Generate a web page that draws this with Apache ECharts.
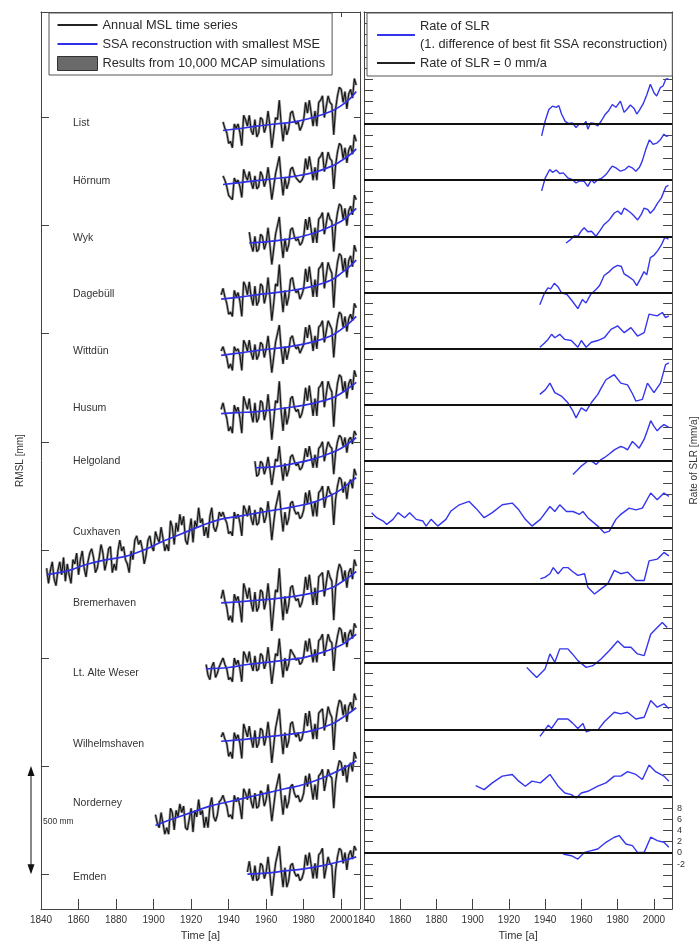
<!DOCTYPE html>
<html><head><meta charset="utf-8">
<script src="https://cdn.jsdelivr.net/npm/echarts@6/dist/echarts.min.js"></script>
<style>html,body{margin:0;padding:0;background:#fff;overflow:hidden}#c{width:700px;height:946px}</style>
</head><body><div id="c"></div>
<script>
// ---------- DATA ----------
const stations = ['List','Hörnum','Wyk','Dagebüll','Wittdün','Husum','Helgoland','Cuxhaven','Bremerhaven','Lt. Alte Weser','Wilhelmshaven','Norderney','Emden'];
const startYears = [1937,1937,1951,1936,1936,1936,1954,1843,1936,1928,1936,1901,1950];
// vertical stacking of the stations (left: mm on RMSL axis, right: mm/a on rate axis)
const mslBase = [3440,3190,2920,2660,2400,2130,1880,1385,1255,950,615,225,0];
const rateZero = [0,-10,-20,-30,-40,-50,-60,-72,-82,-96,-108,-120,-130];
const xTicks = [1840,1860,1880,1900,1920,1940,1960,1980,2000];
const mslTicks = [0,500,1000,1500,2000,2500,3000,3500];
const rateTickLabels = [-2,0,2,4,6,8];

// annual MSL (cm, relative to SSA start), one value per year from startYear
const mslList = [4,1,-1,-6,-5,-8,3,1,3, -1,-7,7,5,2,7,0,-2,5,-3, -1,6,5,-1,2,9,2,-8,-1,6, 5,14,3,-5,3,-2,1,8,9,5, 3,4,0,2,5,13,8,14,8,2, 9,2,13,14,16,6,11,16,13,12, -2,10,16,20,19,13,18,10,17,19, 15,24,21];
const mslHornum = [4,2,-1,-5,-5,-7,3,1,2, -1,-6,7,4,2,6,1,-2,4,-2, -1,6,4,-1,2,8,1,-7,-1,5, 5,13,3,-5,3,-2,1,7,8,5, 3,3,1,2,4,12,7,13,8,2, 8,2,12,13,15,6,10,15,12,11, -2,9,15,19,18,12,17,10,16,18, 14,23,20];
const mslWyk = [5,-1,-4,3,-4, -3,4,3,-3,0,7,-1,-10,-3,4, 4,12,1,-7,2,-4,-1,6,7,3, 1,2,-1,0,3,11,6,12,6,0, 7,0,11,12,14,4,9,14,11,10, -4,8,14,18,17,11,16,8,15,17, 13,22,20];
const mslDagebull = [2,5,1,-2,-7,-6,-8,4,1,3, -1,-8,8,6,2,8,1,-3,6,-3, -1,7,6,-2,2,10,1,-10,-2,7, 6,16,3,-6,4,-3,1,9,10,5, 3,4,0,2,5,14,8,15,8,1, 9,1,14,15,17,5,11,17,14,12, -4,10,17,21,20,13,19,10,18,20, 15,25,22];
const mslWittdun = [2,4,1,-1,-6,-4,-7,4,2,3, 0,-7,7,5,2,7,1,-2,5,-2, 0,6,5,-1,3,9,1,-8,-1,6, 6,14,3,-4,4,-2,2,8,9,5, 3,4,1,3,5,13,8,14,9,2, 9,3,13,14,16,6,11,16,14,12, -1,10,16,20,19,13,18,11,17,19, 16,24,22];
const mslHusum = [2,5,1,-2,-8,-6,-9,4,1,3, -2,-9,8,5,2,7,0,-4,5,-4, -2,6,5,-3,1,9,0,-12,-3,6, 5,15,1,-8,3,-5,-1,7,8,3, 1,2,-2,0,4,12,6,13,6,-1, 7,-1,12,13,15,3,9,15,12,10, -6,7,14,18,17,10,15,7,14,16, 11,20,17];
const mslHelgoland = [3,-4, -3,3,2,-3,0,5,-1,-8,-2,4, 3,10,1,-6,2,-4,-1,5,6,3, 1,2,-1,0,3,9,5,10,5,0, 6,0,9,10,12,3,8,12,10,9, -3,7,12,15,14,10,14,7,13,14, 11,17,15];
const mslCuxhaven = [3,-4,2,6,-2,-5,2,6,0,8, -3,5,0,-4,7,5,10,0,7,11, 3,-1,6,10,12,8,1,3,8,14, 10,2,6,12,13,1,5,2,11,16, 11,13,7,5,1,11,7,16,18,14, 16,12,5,9,16,18,13,11,20,17, 15,22,17,11,14,11,25,22,14,24, 20,28,23,27,16,14,20,26,15,25, 22,31,24,26,18,22,17,27,31,22, 20,23,29,
  27,29,26,24,19,20,18,29,26,28, 24,18,32,30,27,32,26,23,30,23, 24,31,30,24,27,34,26,16,24,31, 31,39,28,20,29,23,26,33,34,30, 28,29,26,27,30,38,33,39,33,27, 34,27,38,39,41,31,36,41,38,37, 23,35,41,45,44,38,43,35,42,44, 40,49,46];
const mslBremerhaven = [2,6,1,-2,-8,-6,-9,4,1,3, -2,-9,9,6,2,7,0,-4,5,-4, -2,6,5,-3,1,9,0,-13,-3,6, 5,16,2,-8,3,-5,-1,7,8,3, 1,2,-2,0,4,12,6,13,6,-1, 7,-1,12,13,14,3,9,15,12,10, -8,7,14,18,16,10,15,7,14,16, 11,20,17];
const mslAlteWeser = [2,-3,-5,1,3,-4,-2,1, 3,5,2,0,-5,-4,-6,5,2,4, 0,-6,8,6,3,8,2,-1,6,-1, 0,7,6,0,3,10,2,-7,0,7, 6,14,4,-4,5,-1,2,9,9,6, 4,5,2,3,6,13,8,14,8,3, 9,3,13,14,16,6,11,16,13,12, -1,10,15,19,18,12,17,10,16,18, 14,21,19];
const mslWilhelmshaven = [2,4,1,-1,-7,-5,-8,4,1,3, -1,-8,8,5,2,7,1,-3,5,-3, -1,6,5,-2,2,9,1,-10,-2,6, 6,15,3,-6,4,-3,0,8,9,4, 2,4,0,1,5,13,7,14,7,1, 8,1,13,14,15,5,10,16,13,11, -4,9,15,19,18,12,17,9,16,18, 14,22,19];
const mslNorderney = [5,1,-1,6,1,-4,-1,-4,8,6, -2,7,4,10,6,9,-1,-2,3,8, -3,7,4,12,5,7,-1,4,-1,9, 13,4,2,5,11,
  12,14,11,9,4,5,3,14,11,13, 9,3,17,15,12,17,11,8,15,8, 9,16,15,9,12,19,11,2,9,16, 16,24,13,5,14,8,11,18,19,15, 13,14,11,12,15,23,18,24,18,12, 19,12,23,24,26,16,21,26,23,22, 8,20,26,30,29,23,28,20,27,29, 25,34,31];
const mslEmden = [1,6,0,-3,4,-3,-2,5,4,-2, 1,8,0,-10,-2,5,5,13,2,-6, 3, -6,-3,4,5,1,-1,0,-3,-2,1, 9,4,10,4,-2,5,-2,9,10,12, -2,3,8,5,4,-11,2,8,12,11, 5,10,2,9,11,7,13,11];

// SSA reconstruction (year, cm relative to start)
const ssaList = [[1937,0],[1945,0.8],[1955,2],[1965,3],[1975,4],[1985,6],[1995,9],[2000,11.5],[2005,15],[2008,18]];
const ssaHornum = [[1937,0],[1945,0.8],[1955,1.8],[1965,2.8],[1975,3.8],[1985,5.5],[1995,8.5],[2000,11],[2005,14],[2008,16.5]];
const ssaWyk = [[1951,0],[1960,0.5],[1970,1.5],[1980,3.2],[1990,6],[2000,10],[2005,13.5],[2008,16]];
const ssaDagebull = [[1936,0],[1945,0.8],[1955,2],[1965,3],[1975,4.2],[1985,6],[1995,9],[2000,12],[2005,15.5],[2008,18]];
const ssaWittdun = [[1936,0],[1945,1],[1955,2.2],[1965,3.2],[1975,4.4],[1985,6.2],[1995,9.2],[2000,12],[2005,15.5],[2008,18]];
const ssaHusum = [[1936,0],[1945,0.5],[1955,1],[1965,2],[1975,3.2],[1985,4.8],[1995,7.2],[2000,9.5],[2005,12.5],[2008,14.5]];
const ssaHelgoland = [[1954,0],[1965,0.5],[1975,2],[1985,4],[1995,7],[2000,9],[2005,12],[2008,14]];
const ssaCuxhaven = [[1843,0],[1855,2],[1865,5],[1875,7],[1885,8.5],[1895,11.5],[1905,15.5],[1915,19],[1925,22.5],[1935,25.5],[1945,27],[1955,28.5],[1965,30],[1975,31.5],[1985,33.5],[1995,37],[2000,39.5],[2005,43],[2008,45]];
const ssaBremerhaven = [[1936,0],[1945,0.5],[1955,1.2],[1965,2],[1975,3],[1985,4.6],[1995,7],[2000,9.5],[2005,12.5],[2008,14.5]];
const ssaAlteWeser = [[1928,0],[1940,0.6],[1950,2],[1960,3],[1970,4],[1980,5.2],[1990,7.6],[2000,11],[2005,14],[2008,16]];
const ssaWilhelmshaven = [[1936,0],[1945,0.6],[1955,1.5],[1965,2.5],[1975,3.5],[1985,5],[1995,8],[2000,10.5],[2005,13.5],[2008,15.5]];
const ssaNorderney = [[1901,0],[1910,3],[1920,6],[1930,9],[1940,11],[1950,13],[1960,15],[1970,17],[1980,19],[1990,22],[2000,26],[2008,30]];
const ssaEmden = [[1950,0],[1960,0.5],[1970,1.5],[1980,2.5],[1990,4],[2000,6],[2008,8]];

// Rate of SLR (year, mm/a)
const rateList = [[1938,-2.1],[1940,0.6],[1942,2.6],[1944,3.2],[1946,3.0],[1947.5,3.3],[1949,1.8],[1951,0.5],[1953,0.1],[1955,0.2],[1957,-0.6],[1959,0.1],[1961,-0.1],[1962.5,0.5],[1963.5,-0.9],[1965,0.2],[1967,0.1],[1969,-0.3],[1971,0.6],[1973,1.7],[1975,2.4],[1977,3.5],[1979,3.0],[1981.5,4.1],[1983.5,2.1],[1985,2.6],[1987,3.4],[1989,2.8],[1990.5,1.8],[1992,2.5],[1994,3.6],[1996,5.2],[1998,7.1],[2000,5.6],[2001.5,5.0],[2003.5,6.5],[2005,6.8],[2006.5,8.0],[2008,8.1]];
const rateHornum = [[1938,-1.9],[1940,0.4],[1942.5,1.9],[1944,1.4],[1946,1.8],[1948,1.2],[1950,1.3],[1952.5,0.4],[1955,0.1],[1957,-0.5],[1959,-0.1],[1961.5,-0.2],[1963.5,-1.1],[1965.5,0.1],[1967,-0.5],[1969,0.1],[1971,0.3],[1973.5,1.0],[1975.5,1.9],[1977,2.5],[1979,2.2],[1981.5,1.6],[1984,1.9],[1986,2.5],[1988,2.2],[1990,1.6],[1992,2.3],[1993.5,3.4],[1995.5,5.5],[1997.5,7.2],[1999.5,6.4],[2001.5,6.6],[2003.5,7.2],[2005.5,8.2],[2007,7.8],[2008,8.0]];
const rateWyk = [[1951.5,-1.2],[1954,-0.6],[1956,0.1],[1958,0],[1960,1.0],[1961.5,1.5],[1963.5,0.8],[1965.5,0.9],[1968,0],[1970,0.9],[1972.5,2.1],[1975,2.8],[1978,4.1],[1980,4.5],[1982,3.9],[1983.5,5.0],[1985.5,4.6],[1987.5,4.1],[1989,3.6],[1991,2.9],[1993,3.9],[1994.5,5.0],[1996.5,4.8],[1998,4.1],[2000,4.8],[2002,5.9],[2004,6.8],[2006.5,8.8],[2008,9.1]];
const rateDagebull = [[1937,-2.2],[1939.5,-0.2],[1941.5,0.8],[1943,0.6],[1945,1.6],[1947,1.0],[1949,-0.1],[1952,-0.4],[1955,-1.6],[1958,-2.9],[1960.5,-1.3],[1962.5,-1.9],[1965,-0.4],[1968,0.5],[1970,1.2],[1972.5,3.0],[1975,3.6],[1977.5,4.4],[1980,4.8],[1982,4.6],[1983.5,3.3],[1986,2.8],[1988.5,2.2],[1990.5,1.2],[1992.5,2.4],[1994.5,3.7],[1996,3.1],[1998,6.2],[2000,6.6],[2002,7.4],[2004,8.4],[2006,9.8],[2008,9.5]];
const rateWittdun = [[1937,0.2],[1939.5,0.9],[1941.5,1.6],[1943.5,2.5],[1945.3,1.9],[1948,2.5],[1950.8,1.6],[1954.4,1.4],[1958,0.2],[1959.9,1.4],[1962.6,0.2],[1965.4,1.1],[1969,1.4],[1972.6,1.9],[1976.3,3.4],[1980,4.0],[1983.6,2.8],[1987.3,3.7],[1990.9,2.2],[1994.6,2.8],[1997.3,6.1],[2001.8,5.8],[2004.6,6.4],[2006.4,5.5],[2008.2,5.8]];
const rateHusum = [[1937,1.8],[1940,2.6],[1942.6,3.8],[1945.3,2.1],[1948.9,1.5],[1952.5,0.3],[1955,-1.0],[1957,-2.4],[1959.9,-0.6],[1962.6,-1.2],[1965.4,0.3],[1969,1.8],[1971,3.0],[1973.5,4.4],[1976,4.9],[1978.1,5.3],[1981.7,3.8],[1985.4,3.5],[1988,2.0],[1990,0.6],[1993.6,0.9],[1996.4,3.8],[2000,2.1],[2003.6,3.8],[2006.4,7.1],[2008.2,7.4]];
const rateHelgoland = [[1955.3,-2.5],[1957.5,-1.8],[1959.9,-1.0],[1963.5,-0.1],[1966,-0.2],[1968.1,-0.7],[1970.5,0.1],[1972.6,0.5],[1975.5,1.2],[1978.1,1.9],[1981.7,2.5],[1983.5,2.3],[1985.4,1.9],[1988.1,3.4],[1990,2.8],[1991.8,2.2],[1994.6,3.8],[1996.5,5.5],[1998.2,7.1],[2000,6.1],[2001.8,5.3],[2003.5,5.9],[2005.5,6.4],[2008.2,5.9]];
const rateCuxhaven = [[1844.2,2.7],[1847,1.8],[1850.6,1.2],[1852.5,0.6],[1856,1.5],[1858.8,2.7],[1862.4,1.8],[1865.2,2.7],[1868.8,1.5],[1872.5,1.2],[1874.3,0.3],[1877,1.5],[1880.7,0.3],[1885.2,1.5],[1888,3.0],[1892.6,4.1],[1898,4.7],[1901.7,3.5],[1906.3,1.8],[1910.8,2.7],[1916.3,4.1],[1921.8,4.4],[1925.4,3.2],[1929,1.5],[1932.7,0.3],[1937.3,1.5],[1942.6,3.8],[1945.3,2.9],[1948,4.1],[1951.7,2.9],[1955.3,2.9],[1958.9,2.4],[1960.8,2.9],[1963.5,1.8],[1969,0.3],[1972.6,-0.9],[1975.4,-0.6],[1979,1.5],[1981.7,2.4],[1986.3,3.5],[1990,3.2],[1993.6,3.5],[1998.2,6.2],[2001.8,5.0],[2005.5,6.2],[2008.2,5.6]];
const rateBremerhaven = [[1937.3,0.9],[1940,1.2],[1942.6,1.8],[1944.4,2.9],[1947.1,1.8],[1949.9,2.9],[1952.5,2.9],[1955,2.2],[1958,1.5],[1961.7,1.8],[1963.5,-0.6],[1967.2,-1.8],[1970.8,-0.9],[1974.5,0],[1978.1,2.4],[1981.7,1.8],[1985.4,2.1],[1990,0.6],[1994.6,0.6],[1997.3,4.1],[2001.8,4.4],[2005.5,5.6],[2008.2,5.0]];
const rateAlteWeser = [[1929.8,-0.9],[1932.5,-1.8],[1935.3,-2.7],[1939.9,-1.2],[1942.6,1.5],[1945.3,0],[1948,2.4],[1952.5,2.4],[1955,1.5],[1958,0.3],[1962.6,-0.9],[1966.3,-0.6],[1970.8,0.6],[1975.4,2.1],[1980,3.8],[1983.6,2.7],[1987.3,2.7],[1990.9,1.5],[1994.6,1.2],[1998.2,5.0],[2001.8,6.2],[2004.6,7.1],[2007.3,6.2]];
const rateWilhelmshaven = [[1937.1,-1.2],[1941.7,0.8],[1943.5,0.2],[1947.1,1.9],[1952.5,1.9],[1955,1.2],[1958,0.2],[1960.8,1.1],[1962.6,-0.4],[1965.4,-0.1],[1969,-0.1],[1972.6,1.4],[1978.1,3.1],[1981.7,2.8],[1985.4,3.1],[1990,1.9],[1994.6,2.2],[1998.2,5.2],[2001.8,4.0],[2005.5,4.6],[2008.2,3.7]];
const rateNorderney = [[1901.6,2.0],[1906.3,1.3],[1910.8,2.5],[1916.3,3.7],[1921.8,4.0],[1925.4,2.8],[1929,1.9],[1932.7,2.8],[1937.3,2.5],[1942.6,4.0],[1947.1,1.9],[1950.8,0.7],[1954.4,0.4],[1957.1,-0.2],[1959.9,0.7],[1963.5,1.0],[1969,1.9],[1973.5,2.5],[1978.1,3.7],[1981.7,3.7],[1985.4,4.5],[1990,4.0],[1993.6,3.1],[1997.3,5.7],[2000.9,4.5],[2005.5,3.7],[2008.2,2.8]];
const rateEmden = [[1949.8,-0.2],[1954.4,-0.5],[1958,-1.1],[1961.7,0.1],[1965.4,0.4],[1969,0.7],[1973.5,1.9],[1978.1,2.8],[1980.8,3.1],[1984.5,1.6],[1988.1,1.3],[1990.9,0.1],[1994.6,0.1],[1998.2,2.8],[2001.8,2.2],[2005.5,1.9],[2008.2,1.0]];

const mslData = [mslList,mslHornum,mslWyk,mslDagebull,mslWittdun,mslHusum,mslHelgoland,mslCuxhaven,mslBremerhaven,mslAlteWeser,mslWilhelmshaven,mslNorderney,mslEmden];
const ssaData = [ssaList,ssaHornum,ssaWyk,ssaDagebull,ssaWittdun,ssaHusum,ssaHelgoland,ssaCuxhaven,ssaBremerhaven,ssaAlteWeser,ssaWilhelmshaven,ssaNorderney,ssaEmden];
const rateData = [rateList,rateHornum,rateWyk,rateDagebull,rateWittdun,rateHusum,rateHelgoland,rateCuxhaven,rateBremerhaven,rateAlteWeser,rateWilhelmshaven,rateNorderney,rateEmden];

// ---------- CHART ----------
const FONT = '"Liberation Sans", Arial, sans-serif';
const N_MSL = 'Annual MSL time series';
const N_SSA = 'SSA reconstruction with smallest MSE';
const N_MC = 'Results from 10,000 MCAP simulations';
const N_RATE = 'Rate of SLR\n(1. difference of best fit SSA reconstruction)';
const N_ZERO = 'Rate of SLR = 0 mm/a';
const LINE_ICON = 'path://M0,0 L40,0 L40,2.2 L0,2.2 Z';
const AX = '#444';

function xAxis(grid, pos, withLabels) {
  return {
    type: 'value', gridIndex: grid, position: pos, min: 1840, max: 2010, interval: 20,
    axisLine: { show: true, onZero: false, lineStyle: { color: AX, width: 1 } },
    axisTick: { show: true, inside: true, length: withLabels ? 10 : 5, lineStyle: { color: AX } },
    axisLabel: { show: withLabels, margin: 6, fontSize: 10, color: '#333', fontFamily: FONT,
      formatter: v => (xTicks.indexOf(v) >= 0 ? String(v) : '') },
    splitLine: { show: false },
    name: withLabels ? 'Time [a]' : '', nameLocation: 'middle', nameGap: 21,
    nameTextStyle: { fontSize: 11, color: '#333', fontFamily: FONT }
  };
}

const yAxes = [
  { type: 'value', gridIndex: 0, position: 'left', min: -161, max: 3988, interval: 500,
    axisLine: { show: true, onZero: false, lineStyle: { color: AX } },
    axisTick: { show: true, inside: true, length: 8, customValues: mslTicks, lineStyle: { color: AX } },
    axisLabel: { show: false }, splitLine: { show: false },
    name: 'RMSL [mm]', nameLocation: 'middle', nameGap: 16,
    nameTextStyle: { fontSize: 10, color: '#333', fontFamily: FONT } },
  { type: 'value', gridIndex: 0, position: 'right', min: -161, max: 3988, interval: 500,
    axisLine: { show: true, onZero: false, lineStyle: { color: AX } },
    axisTick: { show: true, inside: true, length: 6, customValues: mslTicks, lineStyle: { color: AX } },
    axisLabel: { show: false }, splitLine: { show: false } },
  { type: 'value', gridIndex: 1, position: 'left', min: -140, max: 20, interval: 2,
    axisLine: { show: true, onZero: false, lineStyle: { color: AX } },
    axisTick: { show: true, inside: true, length: 9, lineStyle: { color: AX } },
    axisLabel: { show: false }, splitLine: { show: false } },
  { type: 'value', gridIndex: 1, position: 'right', min: -140, max: 20, interval: 2,
    axisLine: { show: true, onZero: false, lineStyle: { color: AX } },
    axisTick: { show: true, inside: true, length: 9, lineStyle: { color: AX } },
    axisLabel: { show: true, margin: 5, fontSize: 9, color: '#333', fontFamily: FONT,
      formatter: v => { const r = v - rateZero[rateZero.length - 1]; return rateTickLabels.indexOf(r) >= 0 ? String(r) : ''; } },
    splitLine: { show: false },
    name: 'Rate of SLR [mm/a]', nameLocation: 'middle', nameGap: 16,
    nameTextStyle: { fontSize: 10, color: '#333', fontFamily: FONT } }
];

const series = [];
stations.forEach((s, i) => {
  const pts = mslData[i].map((v, k) => [startYears[i] + k, mslBase[i] + v * 10]);
  series.push({ name: N_MC, type: 'line', xAxisIndex: 0, yAxisIndex: 0, data: pts, symbol: 'none',
    color: '#6a6a6a', lineStyle: { color: '#9a9a9a', width: 2.6 }, z: 1, silent: true });
  series.push({ name: N_MSL, type: 'line', xAxisIndex: 0, yAxisIndex: 0, data: pts, symbol: 'none',
    color: '#111', lineStyle: { color: '#151515', width: 1.1 }, z: 2, silent: true });
  series.push({ name: N_SSA, type: 'line', xAxisIndex: 0, yAxisIndex: 0, smooth: 0.4, symbol: 'none',
    data: ssaData[i].map(p => [p[0], mslBase[i] + p[1] * 10]),
    color: '#2f2fe6', lineStyle: { color: '#2f2fe6', width: 1.7 }, z: 3, silent: true });
  series.push({ name: N_RATE, type: 'line', xAxisIndex: 2, yAxisIndex: 2, symbol: 'none',
    data: rateData[i].map(p => [p[0], rateZero[i] + p[1]]),
    color: '#3535ee', lineStyle: { color: '#3535ee', width: 1.4 }, z: 3, silent: true });
});
series.push({ name: N_ZERO, type: 'line', xAxisIndex: 2, yAxisIndex: 2, data: [], symbol: 'none', color: '#111',
  markLine: { silent: true, symbol: ['none', 'none'], label: { show: false }, animation: false,
    lineStyle: { color: '#111', width: 2, type: 'solid' },
    data: rateZero.map(z => ({ yAxis: z })) } });

const legendText = { fontFamily: FONT, fontSize: 12.8, color: '#2a2a2a' };
const option = {
  animation: false,
  backgroundColor: '#fff',
  grid: [
    { left: 41, top: 12, width: 319, height: 902 },
    { left: 364, top: 12, width: 311, height: 902 }
  ],
  xAxis: [xAxis(0, 'bottom', true), xAxis(0, 'top', false), xAxis(1, 'bottom', true), xAxis(1, 'top', false)],
  yAxis: yAxes,
  legend: [
    { left: 49, top: 13, orient: 'vertical', align: 'left', padding: [5, 7, 4, 8], itemGap: 5,
      itemWidth: 40, itemHeight: 14, backgroundColor: '#fff', borderColor: '#555', borderWidth: 1,
      selectedMode: false, textStyle: Object.assign({ lineHeight: 14 }, legendText),
      data: [
        { name: N_MSL, icon: LINE_ICON, itemStyle: { color: '#222' } },
        { name: N_SSA, icon: LINE_ICON, itemStyle: { color: '#3030e6' } },
        { name: N_MC, icon: 'rect', itemStyle: { color: '#6a6a6a', borderColor: '#333', borderWidth: 1 } }
      ] },
    { left: 367, top: 13, orient: 'vertical', align: 'left', padding: [4, 5, 4, 10], itemGap: 1,
      itemWidth: 38, itemHeight: 14, backgroundColor: '#fff', borderColor: '#555', borderWidth: 1,
      selectedMode: false, textStyle: Object.assign({ lineHeight: 18 }, legendText),
      data: [
        { name: N_RATE, icon: LINE_ICON, itemStyle: { color: '#3535ee' } },
        { name: N_ZERO, icon: LINE_ICON, itemStyle: { color: '#222' } }
      ] }
  ],
  series: series
};

const chart = echarts.init(document.getElementById('c'), null, { renderer: 'canvas' });
chart.setOption(option);

// annotations: station names and the 500 mm scale arrow
const labelY = [123,181,238,294,351,408,461,532,603,673,744,803,877];
const g = stations.map((s, i) => ({
  type: 'text', x: 73, y: labelY[i], silent: true, z: 50,
  style: { text: s, fill: '#333', fontSize: 10.5, fontFamily: FONT, verticalAlign: 'middle', align: 'left' }
}));
const yBot = chart.convertToPixel({ yAxisIndex: 0 }, 0);
const yTop = chart.convertToPixel({ yAxisIndex: 0 }, 500);
const ax = 31;
g.push({ type: 'line', silent: true, z: 50, shape: { x1: ax, y1: yTop + 6, x2: ax, y2: yBot - 6 }, style: { stroke: '#111', lineWidth: 1 } });
g.push({ type: 'polygon', silent: true, z: 50, shape: { points: [[ax - 3.5, yTop + 10], [ax, yTop], [ax + 3.5, yTop + 10]] }, style: { fill: '#111' } });
g.push({ type: 'polygon', silent: true, z: 50, shape: { points: [[ax - 3.5, yBot - 10], [ax, yBot], [ax + 3.5, yBot - 10]] }, style: { fill: '#111' } });
g.push({ type: 'text', x: 43, y: (yTop + yBot) / 2 + 2, silent: true, z: 50,
  style: { text: '500 mm', fill: '#333', fontSize: 8.5, fontFamily: FONT, verticalAlign: 'middle', align: 'left' } });
chart.setOption({ graphic: g });
</script>
</body></html>
